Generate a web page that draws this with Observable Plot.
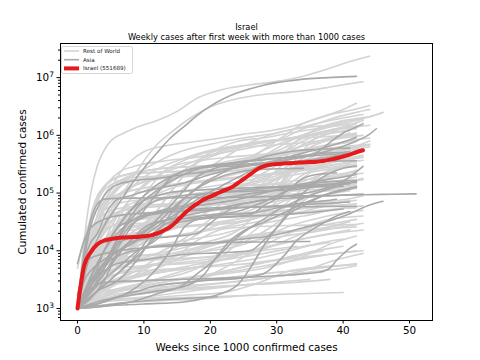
<!DOCTYPE html>
<html><head><meta charset="utf-8">
<script src="https://cdn.jsdelivr.net/npm/d3@7"></script>
<script src="https://cdn.jsdelivr.net/npm/@observablehq/plot@0.6"></script>
<style>body{margin:0;background:#fff}</style>
</head><body><div id="chart"></div>
<script>
const titleText = "Israel";
const subtitleText = "Weekly cases after first week with more than 1000 cases";
const xLabel = "Weeks since 1000 confirmed cases";
const yLabel = "Cumulated confirmed cases";
const xTicks = [0, 10, 20, 30, 40, 50];
const yTicks = [1e3, 1e4, 1e5, 1e6, 1e7];
const legendLabels = ["Rest of World", "Asia", "Israel (551689)"];

const israelWeeks = [0,1,2,3,4,5,6,7,8,9,10,11,12,13,14,15,16,17,18,19,20,21,22,23,24,25,26,27,28,29,30,31,32,33,34,35,36,37,38,39,40,41,42,43];
const israelCases = [1000,5500,9500,13000,15000,16000,16700,17000,17200,17400,17800,18500,20000,22500,26000,33000,43000,54000,65000,77000,87000,98000,110000,122000,145000,175000,210000,255000,290000,310000,320000,325000,330000,335000,340000,345000,350000,360000,380000,400000,430000,465000,510000,551689];

// [week, cumulated cases]
const restOfWorldSeries = [
  [[0,1e3],[1,1.5e4],[2,1.0e5],[3,3.0e5],[4,5.5e5],[5,8.0e5],[7,1.1e6],[9,1.4e6],[12,1.8e6],[15,2.6e6],[18,4.4e6],[22,6.3e6],[26,7.5e6],[30,8.6e6],[34,1.06e7],[38,1.45e7],[41,1.9e7],[44,2.35e7]],
  [[0,1e3],[2,6e3],[4,2.5e4],[6,7e4],[8,1.6e5],[10,3.6e5],[12,7e5],[14,1.1e6],[17,2.0e6],[20,3.1e6],[24,4.3e6],[28,5.1e6],[32,5.6e6],[36,6.3e6],[40,7.5e6],[43,8.5e6]],
  [[0,1e3],[2,1e4],[4,6e4],[6,1.9e5],[8,3.6e5],[10,5.2e5],[13,6.5e5],[17,7.6e5],[21,8.8e5],[25,1.05e6],[29,1.2e6],[33,1.5e6],[37,2.1e6],[40,2.8e6],[42,3.6e6]],
  [[0,1e3],[2,1.5e4],[4,9e4],[6,1.6e5],[9,1.9e5],[14,2.0e5],[20,2.3e5],[25,3.5e5],[30,8e5],[34,1.6e6],[38,2.3e6],[41,2.7e6],[44,3.3e6]],
  [[0,1e3],[2,1.2e4],[4,6e4],[6,1.3e5],[9,2.2e5],[13,2.7e5],[18,2.9e5],[24,3.3e5],[28,4.5e5],[32,8e5],[36,1.25e6],[40,1.7e6],[44,2.1e6],[46,2.5e6]],
  [[0,1e3],[1,4e3],[2,1.5e4],[3,4e4],[5,1.1e5],[7,1.8e5],[10,2.2e5],[15,2.35e5],[20,2.5e5],[25,2.8e5],[30,4e5],[33,8e5],[36,1.3e6],[40,1.8e6],[44,2.1e6]],
  [[0,1e3],[1,6e3],[2,2.8e4],[3,8e4],[4,1.3e5],[6,1.9e5],[9,2.2e5],[14,2.35e5],[20,2.55e5],[24,3.3e5],[28,5.5e5],[32,8.5e5],[36,1.2e6],[40,1.6e6],[43,1.9e6]],
  [[0,1e3],[3,3e3],[6,7e3],[10,2e4],[14,7e4],[18,2e5],[22,4e5],[26,7.5e5],[30,1.1e6],[34,1.35e6],[38,1.5e6],[41,1.65e6]],
  [[0,1e3],[4,5e3],[8,1.5e4],[12,5e4],[16,2e5],[20,5e5],[24,7.8e5],[28,9e5],[32,1.1e6],[36,1.3e6],[40,1.5e6],[42,1.6e6]],
  [[0,1e3],[3,4e3],[6,1.5e4],[9,4e4],[12,1.2e5],[16,2.5e5],[20,4.2e5],[24,6e5],[28,7.5e5],[32,9e5],[36,1.1e6],[40,1.4e6],[42,1.6e6]],
  [[0,1e3],[1,7e3],[2,3e4],[3,7e4],[5,1.4e5],[8,1.7e5],[12,1.8e5],[18,2e5],[24,2.5e5],[30,3.5e5],[34,7e5],[38,1.1e6],[41,1.5e6],[43,1.8e6]],
  [[0,1e3],[2,5e3],[5,2e4],[8,8e4],[12,2e5],[16,3e5],[20,4.5e5],[24,6.5e5],[28,8e5],[32,8.7e5],[36,9.3e5],[40,9.9e5],[42,1.02e6]],
  [[0,1e3],[3,2.5e3],[6,5e3],[9,1.5e4],[12,5e4],[16,2e5],[20,5e5],[24,6.2e5],[28,6.6e5],[32,7.2e5],[36,7.8e5],[40,9.5e5],[42,1.05e6]],
  [[0,1e3],[2,3e3],[5,9e3],[10,1.7e4],[16,3e4],[22,4.6e4],[26,6.5e4],[30,1.2e5],[33,4e5],[36,9e5],[40,1.2e6],[42,1.3e6]],
  [[0,1e3],[3,4e3],[6,1e4],[10,2e4],[15,3.5e4],[20,6e4],[24,1.1e5],[28,2.2e5],[32,4e5],[36,7e5],[40,1e6],[41,1.1e6]],
  [[0,1e3],[1,4e3],[3,2e4],[5,4e4],[8,5.5e4],[14,6.2e4],[20,7e4],[26,1e5],[30,2.5e5],[33,5e5],[37,5.8e5],[41,6.5e5],[44,7e5]],
  [[0,1e3],[2,7e3],[4,2e4],[7,5.5e4],[11,8.5e4],[16,1.05e5],[22,1.25e5],[26,1.5e5],[30,2e5],[34,2.9e5],[38,4.2e5],[42,5.8e5],[44,6.3e5]],
  [[0,1e3],[2,5e3],[5,1.3e4],[8,3.5e4],[11,1.3e5],[14,2.8e5],[18,3.6e5],[22,4.1e5],[26,4.5e5],[30,4.9e5],[34,5.4e5],[38,5.7e5],[42,6.3e5]],
  [[0,1e3],[3,4e3],[7,7.5e3],[12,9e3],[18,1.3e4],[24,2.2e4],[27,4.5e4],[30,1.2e5],[33,3e5],[36,4.6e5],[40,5.6e5],[43,7e5]],
  [[0,1e3],[3,5e3],[6,1.1e4],[10,1.7e4],[15,2.5e4],[20,5e4],[24,9e4],[28,1.4e5],[32,2.4e5],[36,4e5],[40,5.5e5],[42,6.3e5]],
  [[0,1e3],[2,6e3],[4,1.6e4],[7,2.5e4],[12,3.1e4],[18,4.5e4],[24,5.7e4],[28,8e4],[32,1.5e5],[36,2.8e5],[40,3.8e5],[43,4.5e5]],
  [[0,1e3],[1,5e3],[3,2e4],[6,2.8e4],[12,3.1e4],[20,3.8e4],[26,5e4],[30,1e5],[33,2.3e5],[37,3.2e5],[41,3.8e5],[43,4.2e5]],
  [[0,1e3],[2,3.5e3],[4,1e4],[7,3e4],[12,4e4],[18,6.5e4],[24,1.1e5],[28,1.35e5],[32,1.6e5],[36,1.8e5],[40,2e5],[41,2.1e5]],
  [[0,1e3],[4,3e3],[8,1e4],[12,3e4],[16,7e4],[20,1.1e5],[24,1.3e5],[28,1.4e5],[32,1.43e5],[36,1.48e5],[39,1.6e5]],
  [[0,1e3],[3,4e3],[7,9e3],[11,1.6e4],[15,4e4],[20,7e4],[24,9.5e4],[28,1.15e5],[32,1.35e5],[36,1.6e5],[40,2.1e5],[42,2.5e5]],
  [[0,1e3],[1,7e3],[3,1.2e4],[6,1.5e4],[12,1.7e4],[18,2.1e4],[24,3e4],[28,4.5e4],[32,1.2e5],[36,2.6e5],[40,3.3e5],[43,3.7e5]],
  [[0,1e3],[4,3e3],[8,1.1e4],[12,4e4],[15,7e4],[20,9.5e4],[25,1e5],[30,1.05e5],[36,1.15e5],[40,1.3e5],[42,1.45e5]],
  [[0,1e3],[3,3e3],[7,6e3],[12,9e3],[16,1.6e4],[20,3.5e4],[24,7e4],[28,1.3e5],[32,2.2e5],[36,3.3e5],[40,4e5],[41,4.3e5]],
  [[0,1e3],[3,2.5e3],[8,3.5e3],[14,4.5e3],[20,6e3],[24,1.3e4],[28,3e4],[31,6e4],[34,1.2e5],[37,2.2e5],[40,3e5],[41,3.2e5]],
  [[0,1e3],[2,4e3],[5,1e4],[9,1.8e4],[13,3e4],[17,6e4],[21,8.8e4],[25,1e5],[29,1.15e5],[33,1.28e5],[37,1.45e5],[41,1.65e5]],
  [[0,1e3],[2,4e3],[4,1.6e4],[7,2.2e4],[12,2.5e4],[20,2.8e4],[26,3.4e4],[30,5e4],[33,6.5e4],[37,7e4],[41,8e4],[43,9e4]],
  [[0,1e3],[2,2e3],[6,2.7e3],[12,3.2e3],[18,5e3],[22,1e4],[26,1.6e4],[30,3e4],[33,6e4],[36,1e5],[40,1.25e5],[42,1.35e5]],
  [[0,1e3],[1,3e3],[3,5e3],[7,7.5e3],[12,8.5e3],[18,9.5e3],[24,1.2e4],[28,1.7e4],[32,2.7e4],[36,3.6e4],[40,4.5e4],[43,5e4]],
  [[0,1e3],[2,2e3],[5,4e3],[9,6.5e3],[14,7.2e3],[20,7.8e3],[26,9e3],[30,1.3e4],[34,2e4],[38,2.6e4],[41,3.2e4]],
  [[0,1e3],[1,3.5e3],[2,5e3],[4,6.5e3],[8,7e3],[14,7.5e3],[18,1.5e4],[22,2.4e4],[26,2.6e4],[32,2.75e4],[38,2.8e4],[42,2.85e4]],
  [[0,1e3],[2,1.4e3],[5,1.5e3],[10,1.52e3],[16,1.7e3],[22,1.9e3],[28,3e3],[32,4.5e3],[36,5.2e3],[40,5.6e3],[42,5.8e3]],
  [[0,1e3],[4,1.3e3],[10,1.45e3],[20,1.6e3],[30,1.75e3],[40,1.9e3]],
  [[0,1e3],[5,1.2e3],[12,1.35e3],[20,1.5e3],[27,1.75e3]],
  [[0,1e3],[4,1.4e3],[10,1.8e3],[18,2.2e3],[26,2.6e3],[32,2.8e3],[38,3.2e3]],
  [[0,1e3],[3,1.6e3],[8,2.2e3],[14,3e3],[20,4e3],[26,5.5e3],[30,7e3],[34,9e3],[38,1.1e4],[40,1.2e4]],
  [[0,1e3],[2,2.5e3],[6,5e3],[10,7e3],[16,1e4],[22,1.5e4],[28,2e4],[34,2.3e4],[40,2.5e4],[42,2.6e4]],
  [[0,1e3],[4,2.5e3],[10,5e3],[16,8e3],[22,1.2e4],[28,1.6e4],[34,2e4],[40,2.6e4],[43,3e4]],
  [[0,1e3],[5,1.8e3],[12,2.5e3],[20,3.2e3],[28,4e3],[35,4.8e3],[42,6e3]],
  [[0,1e3],[4,1.5e3],[10,2e3],[18,2.3e3],[26,2.6e3],[31,2.8e3]],
  [[0,1e3],[6,2e3],[14,3e3],[22,4e3],[28,5e3],[34,8e3],[38,1.3e4],[42,1.8e4]],
  [[0,1e3],[1,6e3],[2,2e4],[4,5e4],[7,7e4],[12,8e4],[20,9e4],[28,1.1e5],[34,1.6e5],[38,2.4e5],[42,3e5]],
  [[0,1e3],[1,4e3],[3,1.5e4],[6,3e4],[10,4e4],[16,4.5e4],[22,5.5e4],[28,7e4],[32,1.1e5],[36,1.7e5],[40,2e5],[43,2.2e5]],
  [[0,1e3],[2,3e3],[4,8e3],[8,2e4],[12,3.5e4],[18,5.5e4],[24,7e4],[30,9e4],[36,1.05e5],[40,1.15e5],[42,1.2e5]],
  [[0,1e3],[3,2e3],[8,4e3],[14,1e4],[20,2.5e4],[26,4e4],[32,5e4],[38,6.5e4],[41,7.5e4]],
  [[0,1e3],[2,2e3],[6,3e3],[12,5e3],[18,1e4],[24,1.6e4],[30,2e4],[36,2.4e4],[40,2.8e4]],
  [[0,1e3],[3,1.5e3],[9,2e3],[15,2.5e3],[21,4e3],[27,6e3],[33,7.5e3],[39,9e3],[43,1e4]],
  [[0,5e3],[1,1.6e4],[2,3.5e4],[4,7e4],[8,1.1e5],[14,1.4e5],[20,1.7e5],[26,2e5],[32,2.4e5],[38,3e5],[42,3.5e5]],
  [[0,1e3],[1,1e4],[2,4e4],[3,9e4],[5,1.6e5],[8,2.2e5],[12,2.6e5],[18,2.9e5],[24,3.3e5],[30,4.5e5],[34,8e5],[38,1.2e6],[42,1.4e6]],
  [[0,1e3],[2,8e3],[4,3e4],[6,8e4],[9,1.4e5],[13,1.8e5],[18,2.1e5],[24,2.5e5],[30,3e5],[36,4e5],[40,5.5e5],[44,6.8e5]],
  [[0,1e3],[2,1.6e3],[6,2.2e3],[12,3e3],[18,3.6e3],[24,4.5e3],[30,6e3],[36,8e3],[42,1e4]],
  [[0,1e3],[3,2.5e3],[7,4.5e3],[12,6e3],[18,7.5e3],[24,9e3],[30,1.3e4],[36,1.8e4],[41,2.3e4]],
  [[0,1e3],[1,2e3],[3,3.5e3],[6,5e3],[10,5.5e3],[16,6e3],[22,7e3],[28,9e3],[34,1.2e4],[38,1.4e4]],
  [[0,1e3],[4,1.8e3],[10,2.8e3],[16,4.5e3],[22,7e3],[28,1.1e4],[34,1.6e4],[40,2.1e4],[43,2.3e4]],
  [[0,1e3],[2,1.3e3],[8,1.5e3],[14,1.8e3],[20,2.2e3],[26,2.6e3],[32,3e3],[35,3.2e3]],
  [[0,1e3],[3,3e3],[6,7e3],[10,1.1e4],[16,1.5e4],[22,2e4],[28,3e4],[34,4e4],[40,5.5e4],[43,6e4]],
  [[0,1e3],[2,4e3],[5,1.2e4],[9,2e4],[14,2.5e4],[20,3e4],[26,3.8e4],[32,4.5e4],[38,5.2e4],[42,5.6e4]],
  [[0,1e3],[5,1.5e3],[12,2e3],[18,3e3],[22,5e3],[26,9e3],[30,1.6e4],[34,2.5e4],[38,3.5e4],[43,4e4]],
  [[0,1e3],[2,5e3],[5,2e4],[9,6e4],[14,1.2e5],[20,1.6e5],[26,1.9e5],[32,2.3e5],[38,2.8e5],[42,3.2e5]],
  [[0,1e3],[3,6e3],[6,2.5e4],[10,6e4],[15,1e5],[20,1.3e5],[25,1.6e5],[30,2.2e5],[35,3.5e5],[40,5e5],[43,5.8e5]],
  [[0,1e3],[2,2e3],[5,5e3],[9,1.2e4],[14,3e4],[19,7e4],[24,1.2e5],[29,1.7e5],[34,2.2e5],[39,2.7e5],[42,3e5]],
  [[0,1e3],[1,5e3],[2,1.5e4],[4,3.5e4],[7,5e4],[12,5.8e4],[18,6.2e4],[24,6.6e4],[30,8e4],[34,1.4e5],[38,2e5],[42,2.3e5]],
  [[0,1e3],[1,5e3],[3,3e4],[5,5e4],[9,6e4],[14,6.5e4],[20,7e4],[26,7.5e4],[30,1.1e5],[34,4e5],[38,5.5e5],[41,6.2e5]],
  [[0,1e3],[2,6e3],[4,2.4e4],[7,4.3e4],[12,4.7e4],[18,5.1e4],[24,6.5e4],[28,1e5],[32,2.5e5],[36,4.5e5],[40,5.5e5],[44,8e5]],
  [[0,1e3],[1,8e3],[2,3.5e4],[4,1.2e5],[6,2.2e5],[9,3e5],[13,3.6e5],[18,4.2e5],[24,5.5e5],[30,8e5],[34,1.3e6],[38,1.9e6],[42,2.5e6],[44,2.8e6]],
  [[0,1e3],[2,1e4],[4,5e4],[7,1.5e5],[11,3e5],[15,5e5],[20,7e5],[25,9e5],[30,1.1e6],[35,1.5e6],[40,2e6],[43,2.3e6]],
  [[0,1e3],[2,6e3],[5,4e4],[8,1.2e5],[12,2.6e5],[16,4e5],[20,5.5e5],[25,6.8e5],[30,8e5],[35,1e6],[40,1.3e6],[44,1.5e6]],
  [[0,1e3],[1,5e3],[3,3e4],[6,9e4],[10,1.6e5],[15,2.2e5],[20,2.8e5],[26,3.6e5],[31,6e5],[35,1e6],[39,1.3e6],[43,1.5e6]],
  [[0,1e3],[3,8e3],[6,4e4],[10,1.3e5],[14,2.8e5],[18,4.5e5],[22,6e5],[27,7.5e5],[32,9e5],[37,1.05e6],[41,1.2e6]],
  [[0,1e3],[2,4e3],[5,2e4],[9,7e4],[13,1.5e5],[18,2.5e5],[24,3.5e5],[30,5e5],[35,7e5],[40,9e5],[43,1e6]],
  [[0,1e3],[1,6e3],[3,4e4],[5,8e4],[8,1.1e5],[12,1.3e5],[17,1.5e5],[22,1.9e5],[28,3e5],[33,6e5],[37,8.5e5],[42,1.1e6]],
  [[0,1e3],[2,1.2e4],[4,6e4],[6,1.2e5],[9,1.7e5],[13,2e5],[19,2.4e5],[25,3e5],[30,4.2e5],[35,6e5],[40,7.5e5],[42,8e5]],
  [[0,1e3],[3,5e3],[7,2.5e4],[11,8e4],[15,1.8e5],[19,2.8e5],[24,3.8e5],[29,4.6e5],[34,5.6e5],[39,7e5],[42,7.8e5]],
  [[0,1e3],[1,4e3],[2,1.2e4],[4,3e4],[7,5e4],[11,7e4],[16,9e4],[22,1.2e5],[28,1.8e5],[33,3.5e5],[37,6e5],[41,8e5],[44,9e5]],
  [[0,1e3],[2,3e3],[4,1e4],[7,2.5e4],[11,4e4],[16,5.5e4],[22,7e4],[28,9e4],[34,1.2e5],[39,1.5e5],[43,1.7e5]],
  [[0,1e3],[1,3e3],[3,1e4],[6,2e4],[10,2.8e4],[15,3.3e4],[21,3.8e4],[27,4.8e4],[32,8e4],[36,1.3e5],[40,1.7e5],[42,1.9e5]],
  [[0,1e3],[3,4e3],[6,1.2e4],[10,3e4],[14,6e4],[19,9e4],[24,1.1e5],[29,1.25e5],[34,1.4e5],[39,1.6e5],[42,1.7e5]],
  [[0,1e3],[2,5e3],[4,1.5e4],[7,3e4],[10,4e4],[15,4.5e4],[20,5e4],[26,6e4],[31,7.5e4],[36,9e4],[41,1.1e5]],
  [[0,1e3],[4,4e3],[8,1.5e4],[12,3.5e4],[17,6e4],[22,8e4],[27,9.5e4],[32,1.1e5],[37,1.3e5],[41,1.5e5]],
  [[0,1e3],[1,2.5e3],[3,8e3],[6,1.6e4],[10,2.2e4],[16,2.6e4],[22,3e4],[28,4e4],[33,7e4],[37,1.2e5],[41,1.6e5],[43,1.8e5]],
  [[0,1e3],[2,3e3],[5,8e3],[9,1.4e4],[14,1.8e4],[20,2.3e4],[26,3e4],[31,4e4],[36,5.5e4],[40,7e4],[42,7.5e4]],
  [[0,1e3],[1,3e3],[2,8e3],[4,2e4],[6,3e4],[9,3.5e4],[14,3.8e4],[20,4.2e4],[26,4.6e4],[32,5.2e4],[38,6e4],[42,6.5e4]],
  [[0,1e3],[2,1.5e3],[5,2.5e3],[9,3.5e3],[14,4.5e3],[20,5.5e3],[26,7e3],[32,1e4],[37,1.4e4],[40,1.6e4]],
  [[0,1e3],[1,1.8e3],[3,3e3],[6,4e3],[10,4.5e3],[16,5e3],[22,5.5e3],[28,6.5e3],[33,8e3],[37,1e4]],
  [[0,1e3],[3,1.3e3],[8,1.8e3],[14,2.2e3],[20,2.6e3],[25,3e3],[30,3.6e3],[35,4.3e3],[40,5e3],[42,5.5e3]],
  [[0,1e3],[2,2e3],[5,3.5e3],[9,5e3],[14,6e3],[19,7e3],[24,8.5e3],[29,1.05e4],[33,1.2e4]],
  [[0,1e3],[4,2e3],[8,3.5e3],[12,6e3],[17,1e4],[22,1.4e4],[27,1.8e4],[32,2.2e4],[37,2.8e4],[42,3.5e4]],
  [[0,1e3],[1,1.5e3],[4,2e3],[10,2.3e3],[16,2.5e3],[22,2.8e3],[29,3.5e3],[34,4.5e3],[39,7e3],[43,9e3]],
  [[0,1e3],[3,2e3],[6,3e3],[10,4e3],[15,5e3],[20,6.5e3],[24,8e3]]
];

const asiaSeries = [
  [[0,1e3],[1,3.5e3],[2,9e3],[3,1.6e4],[4,2.7e4],[6,6e4],[8,1.35e5],[10,2.7e5],[12,5e5],[14,9e5],[16,1.4e6],[18,2.2e6],[20,3.2e6],[22,4.3e6],[24,5.4e6],[26,6.4e6],[28,7.4e6],[30,8.2e6],[32,8.8e6],[34,9.4e6],[37,9.9e6],[40,1.03e7],[42,1.05e7]],
  [[0,1e3],[1,1e4],[2,3.5e4],[3,6.5e4],[4,7.8e4],[6,8.1e4],[10,8.2e4],[20,8.4e4],[26,8.5e4],[30,8.8e4],[36,9e4],[42,9.3e4],[46,9.5e4],[51,9.7e4]],
  [[0,1.7e3],[1,5e3],[2,7.5e3],[3,8.3e3],[5,9.5e3],[8,1.07e4],[14,1.2e4],[20,1.35e4],[25,1.6e4],[29,1.8e4],[34,2.5e4],[38,3.3e4],[41,4.4e4],[44,6.2e4],[46,7.2e4]],
  [[0,1e3],[1,1.6e3],[2,2.2e3],[3,2.6e3],[5,2.9e3],[8,3.0e3],[14,3.15e3],[20,3.3e3],[26,3.5e3],[32,3.8e3],[36,4.2e3],[37,4.4e3],[38,5e3],[39,6.8e3],[40,8.8e3],[41,1.1e4],[42,1.3e4]],
  [[0,1e3],[3,1.1e3],[8,1.3e3],[14,1.45e3],[21,1.6e3]],
  [[0,1e3],[2,3e3],[5,7e3],[10,1.1e4],[15,1.3e4],[20,1.38e4],[27,1.42e4],[35,1.45e4]],
  [[0,1e3],[4,1.4e3],[8,1.7e3],[12,2e3],[16,2.4e3],[19,3.8e3],[21,8e3],[23,1.5e4],[25,2.2e4],[28,3.1e4],[31,4.5e4],[34,6.6e4],[37,9e4],[40,1.1e5],[42,1.25e5]],
  [[0,1e3],[1,6.5e3],[2,1.4e4],[3,2e4],[4,3.8e4],[5,6e4],[6,7.8e4],[8,9e4],[10,1.07e5],[12,1.2e5],[16,1.5e5],[20,2.1e5],[24,2.75e5],[28,3.3e5],[32,3.9e5],[36,4.8e5],[40,6.5e5],[42,8e5],[44,1.05e6],[45,1.3e6]],
  [[0,1e3],[1,7e3],[2,2.7e4],[3,5.5e4],[4,9e4],[5,1.2e5],[6,1.4e5],[8,1.6e5],[12,1.8e5],[16,2.1e5],[20,2.4e5],[24,2.8e5],[28,3.3e5],[32,3.8e5],[36,5e5],[38,7.5e5],[40,1.1e6],[42,1.4e6],[43,1.6e6]],
  [[0,1e3],[1,1.8e3],[2,3e3],[3,4.5e3],[5,8e3],[7,1.1e4],[9,1.5e4],[11,2.2e4],[13,3.2e4],[15,4.5e4],[17,6.5e4],[19,9e4],[21,1.2e5],[23,1.6e5],[25,2.1e5],[27,2.8e5],[29,3.4e5],[31,4e5],[33,4.6e5],[35,5.3e5],[37,6.1e5],[39,7.1e5],[41,8.4e5],[42,9.2e5]],
  [[0,1e3],[1,3e3],[2,4.5e3],[4,7e3],[6,1e4],[8,1.3e4],[10,2e4],[12,3.5e4],[14,6e4],[16,1.1e5],[18,1.9e5],[20,2.5e5],[22,3e5],[24,3.4e5],[28,3.8e5],[32,4.1e5],[36,4.5e5],[40,4.8e5],[42,5e5]],
  [[0,1e3],[2,2.5e3],[4,5e3],[6,1.1e4],[8,2.5e4],[10,5e4],[12,1e5],[14,1.8e5],[16,2.4e5],[18,2.7e5],[20,2.85e5],[24,2.95e5],[28,3.15e5],[32,3.4e5],[36,3.9e5],[40,4.6e5],[42,5e5]],
  [[0,1e3],[2,3.5e3],[4,1e4],[6,2.5e4],[8,5e4],[10,9e4],[12,1.4e5],[14,1.9e5],[16,2.4e5],[20,3e5],[24,3.4e5],[28,3.8e5],[32,4.2e5],[36,4.8e5],[40,5.1e5],[41,5.2e5]],
  [[0,1e3],[3,2e3],[6,3e3],[9,7e3],[11,1.5e4],[13,3e4],[15,6e4],[17,1e5],[19,1.5e5],[21,2e5],[23,2.6e5],[25,3.3e5],[27,3.9e5],[29,4.5e5],[31,5e5],[33,5.4e5],[36,5.7e5],[39,5.9e5],[41,6e5]],
  [[0,1e3],[2,2.5e3],[4,6e3],[6,1.6e4],[8,4e4],[10,7.5e4],[12,1.1e5],[14,1.6e5],[16,2.1e5],[18,2.6e5],[20,2.9e5],[24,3.15e5],[28,3.3e5],[32,3.45e5],[36,3.55e5],[40,3.6e5],[42,3.63e5]],
  [[0,1e3],[2,1.5e3],[4,3e3],[6,9e3],[8,1.4e4],[10,1.6e4],[14,1.75e4],[18,2e4],[20,3e4],[22,4.5e4],[24,6e4],[28,7.5e4],[32,9e4],[36,1.1e5],[40,1.6e5],[43,2.9e5]],
  [[0,1e3],[2,3.5e3],[4,1e4],[6,2e4],[8,3.2e4],[10,4.2e4],[13,4.9e4],[16,5.6e4],[20,6.5e4],[24,7.7e4],[28,1e5],[32,1.3e5],[36,1.6e5],[40,1.9e5],[42,2.1e5]],
  [[0,1e3],[3,2.5e3],[6,5e3],[9,1e4],[12,1.6e4],[14,3e4],[16,6e4],[18,9e4],[20,1e5],[24,1.06e5],[28,1.1e5],[32,1.13e5],[36,1.3e5],[40,1.5e5],[42,1.55e5]],
  [[0,1e3],[2,3.5e3],[4,1e4],[6,2.5e4],[8,5e4],[10,7.5e4],[12,9e4],[14,1.03e5],[18,1.12e5],[22,1.18e5],[26,1.24e5],[30,1.3e5],[34,1.36e5],[38,1.41e5],[41,1.44e5]],
  [[0,1e3],[2,2e3],[4,5e3],[6,1.3e4],[8,2.8e4],[10,3.8e4],[12,4.8e4],[16,6e4],[20,7.5e4],[24,9e4],[28,1.05e5],[32,1.2e5],[36,1.38e5],[40,1.48e5],[42,1.52e5]],
  [[0,1e3],[2,2.5e3],[4,6e3],[6,1.3e4],[8,1.7e4],[10,2.1e4],[12,3e4],[14,5e4],[16,8e4],[18,1.2e5],[20,1.6e5],[22,2e5],[24,2.3e5],[26,2.5e5],[28,2.6e5],[32,2.65e5],[34,2.68e5]],
  [[0,1e3],[2,2.5e3],[4,6e3],[6,1.5e4],[8,3.5e4],[10,5.5e4],[12,7.5e4],[14,8.5e4],[18,9.5e4],[22,1.05e5],[26,1.15e5],[30,1.25e5],[34,1.28e5],[38,1.3e5],[40,1.31e5]],
  [[0,1e3],[3,2e3],[6,4e3],[9,8e3],[12,1.8e4],[15,3e4],[18,3.5e4],[22,3.8e4],[26,4.2e4],[28,6e4],[30,8e4],[32,1.2e5],[34,1.8e5],[36,2.1e5],[38,2.2e5],[39,2.25e5]],
  [[0,1e3],[3,2e3],[6,4e3],[9,9e3],[11,1.8e4],[13,2.8e4],[16,3.6e4],[20,4.2e4],[24,4.8e4],[28,7e4],[32,1.15e5],[36,1.5e5],[40,1.62e5],[42,1.65e5]],
  [[0,1e3],[2,2.5e3],[4,4.5e3],[6,6e3],[10,7e3],[16,8.6e3],[22,9.3e3],[26,1e4],[28,1.5e4],[30,2.5e4],[32,4.5e4],[34,6e4],[36,8e4],[38,1e5],[40,1.15e5],[42,1.3e5]],
  [[0,1e3],[3,1.2e3],[6,1.6e3],[9,2e3],[12,2.5e3],[16,2.8e3],[20,3.1e3],[24,3.3e3],[28,4e3],[31,8e3],[33,1.5e4],[35,2.2e4],[37,3e4],[39,4e4],[41,4.8e4]],
  [[0,1e3],[1,1.5e3],[2,2.5e3],[3,5e3],[4,1e4],[5,1.7e4],[6,2.5e4],[8,3.3e4],[10,4e4],[12,4.4e4],[16,5e4],[20,5.5e4],[26,5.7e4],[32,5.8e4],[38,5.85e4],[42,5.9e4]],
  [[0,1e3],[4,1.1e3],[8,1.3e3],[12,1.8e3],[16,2.6e3],[18,4e3],[20,6e3],[22,1e4],[24,1.7e4],[26,2.5e4],[28,3.5e4],[30,5e4],[32,6.5e4],[36,1e5],[40,1.4e5],[42,1.6e5]],
  [[0,1e3],[4,1.1e3],[10,1.2e3],[16,1.3e3],[20,1.6e3],[24,2.5e3],[26,5e3],[28,1.2e4],[30,2.5e4],[32,5e4],[34,1e5],[36,1.6e5],[38,2.2e5],[40,2.7e5],[42,2.9e5]],
  [[0,1e3],[2,2e3],[4,4e3],[6,8e3],[8,1.5e4],[10,2.5e4],[12,3.2e4],[14,3.5e4],[18,3.7e4],[24,3.9e4],[30,4.2e4],[34,4.5e4],[38,5e4],[40,5.3e4]],
  [[0,1e3],[2,2e3],[4,4e3],[6,9e3],[8,1.5e4],[10,2.2e4],[12,3e4],[16,4e4],[20,5e4],[24,6.3e4],[28,7.6e4],[32,8.2e4],[36,8.7e4],[40,9.2e4],[43,9.6e4]],
  [[0,1e3],[4,1.3e3],[8,2e3],[12,5e3],[14,1e4],[16,2.5e4],[18,3.5e4],[22,4.2e4],[26,4.5e4],[30,5.5e4],[34,6.8e4],[38,7.5e4],[39,7.8e4]],
  [[0,6e3],[1,1.5e4],[2,2.5e4],[4,3.5e4],[7,4.2e4],[12,4.6e4],[18,5e4],[24,5.5e4],[30,6e4],[36,6.5e4],[41,7e4]]
];

const restRows = restOfWorldSeries.flatMap((s, i) => s.map(([week, cases]) => ({id: "r" + i, week, cases})));
const asiaRows = asiaSeries.flatMap((s, i) => s.map(([week, cases]) => ({id: "a" + i, week, cases})));
const israelRows = israelWeeks.map((week, i) => ({week, cases: israelCases[i]}));

const supDigits = {"0":"⁰","1":"¹","2":"²","3":"³","4":"⁴","5":"⁵","6":"⁶","7":"⁷","8":"⁸","9":"⁹"};
const supFormat = d => "10" + String(Math.round(Math.log10(d))).split("").map(c => supDigits[c]).join("");

const minorTicks = [];
for (let e = 2; e <= 7; e++) for (let m = 2; m <= 9; m++) {
  const v = m * Math.pow(10, e);
  if (v >= 620 && v <= 3.9e7) minorTicks.push(v);
}

const chart = Plot.plot({
  width: 480, height: 360,
  marginTop: 43, marginBottom: 40, marginLeft: 60, marginRight: 48,
  style: {fontFamily: "'DejaVu Sans', sans-serif", fontSize: "10.4px", background: "#fff", color: "#000"},
  x: {domain: [-2.56, 53.46]},
  y: {type: "log", domain: [620, 3.9e7]},
  marks: [
    Plot.line(restRows, {x: "week", y: "cases", z: "id", stroke: "#d3d3d3", strokeWidth: 1.6, curve: "monotone-x"}),
    Plot.line(asiaRows, {x: "week", y: "cases", z: "id", stroke: "#a9a9a9", strokeWidth: 1.6, curve: "monotone-x"}),
    Plot.line(israelRows, {x: "week", y: "cases", stroke: "#e41a1c", strokeWidth: 4, curve: "monotone-x"}),
    Plot.frame({stroke: "#000", strokeWidth: 1}),
    Plot.axisX({ticks: xTicks, tickSize: 3.5, tickPadding: 3, label: xLabel, labelAnchor: "center", labelOffset: 30, labelArrow: "none"}),
    Plot.axisY({ticks: yTicks, tickSize: 3.5, tickPadding: 3, tickFormat: supFormat, label: yLabel, labelAnchor: "center", labelOffset: 42, labelArrow: "none"}),
    Plot.axisY({ticks: minorTicks, tickSize: 2, tickFormat: () => "", label: null}),
    Plot.text([titleText], {text: d => d, frameAnchor: "top", dy: -19, fontSize: 8.3}),
    Plot.text([subtitleText], {text: d => d, frameAnchor: "top", dy: -9, fontSize: 8.3})
  ]
});

document.getElementById("chart").appendChild(chart);

// superscript exponents like matplotlib mathtext
const revSup = Object.fromEntries(Object.entries(supDigits).map(([k, v]) => [v, k]));
d3.select(chart).selectAll('g[aria-label="y-axis tick label"] text').each(function() {
  const t = d3.select(this);
  const s = t.text();
  if (!s.startsWith("10") || s.length < 3) return;
  const exp = s.slice(2).split("").map(c => revSup[c] ?? c).join("");
  t.text("10");
  t.append("tspan").attr("dy", "-0.5em").attr("font-size", "0.72em").text(exp);
});

// legend
const svg = d3.select(chart);
const lg = svg.append("g").attr("font-family", "'DejaVu Sans', sans-serif").attr("font-size", 5.6).attr("text-anchor", "start");
lg.append("rect").attr("x", 61.5).attr("y", 46.5).attr("width", 71).attr("height", 27).attr("rx", 2)
  .attr("fill", "#fff").attr("fill-opacity", 0.8).attr("stroke", "#cccccc").attr("stroke-width", 0.8);
const legendColors = ["#d3d3d3", "#a9a9a9", "#e41a1c"];
const legendWidths = [1.6, 1.6, 4];
legendLabels.forEach((lab, i) => {
  const y = 51 + i * 8.7;
  lg.append("line").attr("x1", 64).attr("x2", 79).attr("y1", y).attr("y2", y)
    .attr("stroke", legendColors[i]).attr("stroke-width", legendWidths[i]);
  lg.append("text").attr("x", 83).attr("y", y).attr("dy", "0.35em").attr("text-anchor", "start").attr("fill", "#222").text(lab);
});
</script>
</body></html>
